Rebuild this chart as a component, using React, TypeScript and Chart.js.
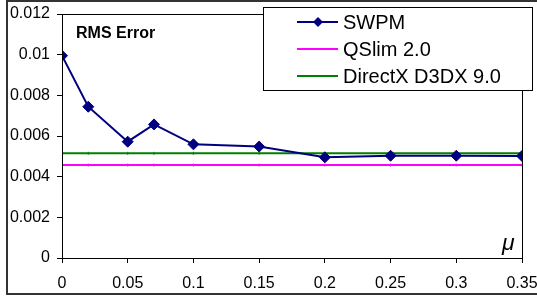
import React, { useEffect, useRef } from "react";
import { Chart, registerables } from "chart.js";

Chart.register(...registerables);

const muValues = [0, 0.02, 0.05, 0.07, 0.1, 0.15, 0.2, 0.25, 0.3, 0.35];
const swpm = [0.00995, 0.00744, 0.00572, 0.00657, 0.00559, 0.00548, 0.00495, 0.00503, 0.00503, 0.00502];
const qslim = 0.00457;
const directx = 0.00515;
const seriesNames = ["SWPM", "QSlim 2.0", "DirectX D3DX 9.0"];
const seriesColors = ["#000080", "#FF00FF", "#008000"];
const chartTitle = "RMS Error";
const xAxisLabel = "μ";

const FONT = "'Liberation Sans', Arial, sans-serif";

const overlay = {
  id: "overlay",
  beforeDraw(chart: any) {
    const { ctx, width, height } = chart;
    ctx.save();
    ctx.fillStyle = "#ffffff";
    ctx.fillRect(0, 0, width, height);
    ctx.restore();
  },
  afterDraw(chart: any) {
    const { ctx, chartArea } = chart;
    ctx.save();
    // plot area border
    ctx.strokeStyle = "#000000";
    ctx.lineWidth = 1;
    ctx.strokeRect(
      Math.round(chartArea.left) + 0.5,
      Math.round(chartArea.top) + 0.5,
      Math.round(chartArea.right - chartArea.left),
      Math.round(chartArea.bottom - chartArea.top)
    );
    // outer border
    ctx.strokeStyle = "#333333";
    ctx.lineWidth = 2;
    ctx.strokeRect(7, 1, 560, 293);

    // title inside plot
    ctx.fillStyle = "#000000";
    ctx.font = `bold 16px ${FONT}`;
    ctx.textBaseline = "middle";
    ctx.textAlign = "left";
    ctx.fillText(chartTitle, 76, 34);

    // mu label
    ctx.font = `italic 23px ${FONT}`;
    ctx.textBaseline = "alphabetic";
    ctx.fillText(xAxisLabel, chartArea.right - 20, chartArea.bottom - 8);

    // legend
    const lx = 263.5, ly = 7.5, lw = 269, lh = 83;
    ctx.fillStyle = "#ffffff";
    ctx.fillRect(lx, ly, lw, lh);
    ctx.strokeStyle = "#000000";
    ctx.lineWidth = 1;
    ctx.strokeRect(lx, ly, lw, lh);
    const rows = [22, 49, 76];
    seriesNames.forEach((name, i) => {
      const y = rows[i];
      ctx.strokeStyle = seriesColors[i];
      ctx.lineWidth = 2;
      ctx.beginPath();
      ctx.moveTo(297, y);
      ctx.lineTo(338, y);
      ctx.stroke();
      if (i === 0) {
        ctx.fillStyle = seriesColors[0];
        ctx.beginPath();
        ctx.moveTo(318, y - 5);
        ctx.lineTo(323, y);
        ctx.lineTo(318, y + 5);
        ctx.lineTo(313, y);
        ctx.closePath();
        ctx.fill();
      }
      ctx.fillStyle = "#000000";
      ctx.font = `20px ${FONT}`;
      ctx.textBaseline = "middle";
      ctx.textAlign = "left";
      ctx.fillText(name, 343, y + 1);
    });
    ctx.restore();
  },
};

function fmt(v: number, d: number) {
  return String(Number(Number(v).toFixed(d)));
}

export default function App() {
  const ref = useRef<HTMLCanvasElement>(null);
  useEffect(() => {
    const canvas = ref.current!;
    const chart = new Chart(canvas, {
      type: "line",
      data: {
        datasets: [
          {
            label: seriesNames[0],
            data: muValues.map((x, i) => ({ x, y: swpm[i] })),
            borderColor: seriesColors[0],
            backgroundColor: seriesColors[0],
            borderWidth: 2,
            pointStyle: "rectRot",
            pointRadius: 5.5,
            pointBorderWidth: 1,
            tension: 0,
          },
          {
            label: seriesNames[1],
            data: muValues.map((x) => ({ x, y: qslim })),
            borderColor: seriesColors[1],
            backgroundColor: seriesColors[1],
            borderWidth: 2,
            pointStyle: "line",
            rotation: 90,
            pointRadius: 1.5,
            pointBorderWidth: 1,
          },
          {
            label: seriesNames[2],
            data: muValues.map((x) => ({ x, y: directx })),
            borderColor: seriesColors[2],
            backgroundColor: seriesColors[2],
            borderWidth: 2,
            pointStyle: "line",
            rotation: 90,
            pointRadius: 1.5,
            pointBorderWidth: 1,
          },
        ],
      },
      options: {
        animation: false,
        responsive: false,
        layout: { padding: { left: 0, top: 14, right: 15, bottom: 0 } },
        plugins: {
          legend: { display: false },
          tooltip: { enabled: false },
          title: { display: false },
        },
        scales: {
          x: {
            type: "linear",
            min: 0,
            max: 0.35,
            border: { display: true, color: "#000000", width: 1 },
            grid: {
              drawOnChartArea: false,
              drawTicks: true,
              tickLength: 5,
              color: "#000000",
            },
            ticks: {
              stepSize: 0.05,
              color: "#000000",
              font: { family: FONT, size: 16 },
              padding: 11,
              maxRotation: 0,
              autoSkip: false,
              callback: (v: any) => fmt(v, 2),
            },
            afterFit: (s: any) => {
              s.height = 44;
              s.paddingLeft = 0;
              s.paddingRight = 0;
            },
          },
          y: {
            type: "linear",
            min: 0,
            max: 0.012,
            border: { display: true, color: "#000000", width: 1 },
            grid: {
              drawOnChartArea: false,
              drawTicks: true,
              tickLength: 5,
              color: "#000000",
            },
            ticks: {
              stepSize: 0.002,
              color: "#000000",
              font: { family: FONT, size: 16 },
              padding: 7,
              callback: (v: any) => fmt(v, 3),
            },
            afterFit: (s: any) => {
              s.width = 62;
              s.paddingTop = 0;
              s.paddingBottom = 0;
            },
          },
        },
      },
      plugins: [overlay],
    });
    return () => chart.destroy();
  }, []);
  return (
    <div style={{ position: "absolute", left: 0, top: 0, width: 537, height: 302 }}>
      <canvas ref={ref} width={537} height={302} style={{ display: "block" }} />
    </div>
  );
}
